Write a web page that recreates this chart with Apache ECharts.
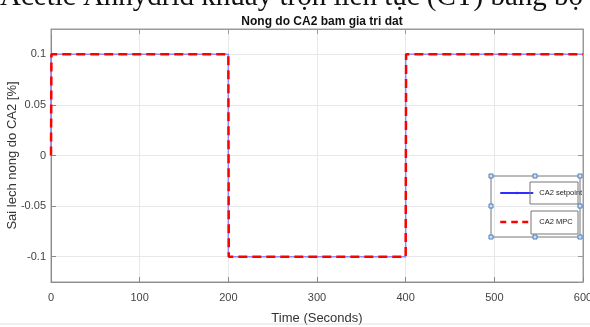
<!DOCTYPE html>
<html>
<head>
<meta charset="utf-8">
<script src="https://cdn.jsdelivr.net/npm/echarts@6/dist/echarts.min.js"></script>
<style>
  html, body { margin: 0; padding: 0; background: #fff; }
  #main { width: 590px; height: 327px; }
</style>
</head>
<body>
<div id="main"></div>
<script>
// du lieu doc tu hinh
var timeSp = [0, 0, 200, 200, 400, 400, 600]
var setpoint = [0, 0.1, 0.1, -0.1, -0.1, 0.1, 0.1]
var timeMpc = [0, 0.5, 200, 200.5, 400, 400.5, 600]
var mpc = [0, 0.1, 0.1, -0.1, -0.1, 0.1, 0.1]
var xTicks = [0, 100, 200, 300, 400, 500, 600]
var yTicks = [-0.1, -0.05, 0, 0.05, 0.1]

var font = "'Liberation Sans Narrow', 'Liberation Sans', Arial, sans-serif"

function pairs (xs, ys) {
    return xs.map(function (x, i) { return [x, ys[i]] })
}

var chart = echarts.init(document.getElementById('main'))

// o vuong nho cua legend (che do edit cua matlab)
var handles = [[491, 176], [535, 176], [580, 176], [491, 206], [580, 206], [491, 237], [535, 237], [580, 237]]

chart.setOption({
    animation: false,
    title: {
        text: 'Nong do CA2 bam gia tri dat',
        left: 317,
        textAlign: 'center',
        top: 11,
        textStyle: { fontFamily: font, fontSize: 12, fontWeight: 'bold', color: '#111' }
    },
    grid: {
        left: 51,
        right: 7,
        top: 29,
        bottom: 45,
        containLabel: false,
        outerBoundsMode: 'none',
        show: true,
        borderColor: '#9a9a9a',
        borderWidth: 1
    },
    legend: {
        orient: 'vertical',
        left: 494,
        top: 184,
        itemWidth: 33,
        itemHeight: 3,
        itemGap: 21,
        textStyle: { fontFamily: font, fontSize: 7.5, color: '#222', padding: [0, 0, 0, 1] },
        data: [
            { name: 'CA2 setpoint', itemStyle: { color: '#2d2dff' }, lineStyle: { color: '#2d2dff', width: 2 } },
            { name: 'CA2 MPC', itemStyle: { color: '#ff0000' }, lineStyle: { width: 2.5, type: [6, 5] } }
        ]
    },
    xAxis: [{
        type: 'value',
        min: 0,
        max: 600,
        interval: 100,
        name: 'Time (Seconds)',
        nameLocation: 'middle',
        nameGap: 30,
        nameMoveOverlap: false,
        nameTextStyle: { fontFamily: font, fontSize: 13, color: '#333' },
        axisLine: { onZero: false, lineStyle: { color: '#8a8a8a' } },
        axisTick: { inside: true, length: 5, lineStyle: { color: '#8a8a8a' } },
        axisLabel: {
            fontFamily: font, fontSize: 11, color: '#444', margin: 10,
            formatter: function (v) { return xTicks.indexOf(v) >= 0 ? String(v) : '' }
        },
        splitLine: { show: true, lineStyle: { color: '#e8e8e8' } }
    }, {
        type: 'value',
        position: 'top',
        min: 0,
        max: 600,
        interval: 100,
        axisLine: { show: true, onZero: false, lineStyle: { color: '#9a9a9a' } },
        axisTick: { inside: true, length: 5, lineStyle: { color: '#9a9a9a' } },
        axisLabel: { show: false },
        splitLine: { show: false }
    }],
    yAxis: [{
        type: 'value',
        min: -0.125,
        max: 0.125,
        splitNumber: 5,
        name: 'Sai lech nong do CA2 [%]',
        nameLocation: 'middle',
        nameGap: 32,
        nameMoveOverlap: false,
        nameTextStyle: { fontFamily: font, fontSize: 13, color: '#333' },
        axisLine: { show: true, onZero: false, lineStyle: { color: '#8a8a8a' } },
        axisTick: { show: true, inside: true, length: 5, lineStyle: { color: '#8a8a8a' } },
        axisLabel: {
            fontFamily: font, fontSize: 11, color: '#444', margin: 5,
            showMinLabel: false, showMaxLabel: false,
            formatter: function (v) {
                var r = Math.round(v * 100) / 100
                return yTicks.indexOf(r) >= 0 ? String(r) : ''
            }
        },
        splitLine: { show: true, lineStyle: { color: '#e8e8e8' } }
    }, {
        type: 'value',
        position: 'right',
        min: -0.125,
        max: 0.125,
        splitNumber: 5,
        axisLine: { show: true, onZero: false, lineStyle: { color: '#9a9a9a' } },
        axisTick: { show: true, inside: true, length: 5, lineStyle: { color: '#9a9a9a' } },
        axisLabel: { show: false },
        splitLine: { show: false }
    }],
    series: [{
        name: 'CA2 setpoint',
        type: 'line',
        data: pairs(timeSp, setpoint),
        symbol: 'none',
        lineStyle: { color: '#8c8cff', width: 1.5 },
        itemStyle: { color: '#8c8cff' },
        z: 2
    }, {
        name: 'CA2 MPC',
        type: 'line',
        data: pairs(timeMpc, mpc),
        symbol: 'none',
        lineStyle: { color: '#ff0000', width: 2.5, type: [9, 5] },
        itemStyle: { color: '#ff0000' },
        z: 3
    }],
    graphic: [
        // dong chu bi cat o tren cung
        {
            type: 'text', left: 0, top: -17, z: 100,
            style: { text: 'Acetic Anhydrid khuấy trộn liên tục (CT) bằng bộ', font: '29px "Liberation Serif", serif', fill: '#111' }
        },
        // khung legend
        { type: 'rect', shape: { x: 491, y: 176, width: 89, height: 61 }, style: { fill: 'none', stroke: '#777', lineWidth: 1 }, z: 100 },
        { type: 'rect', shape: { x: 530, y: 182, width: 48, height: 22 }, style: { fill: 'none', stroke: '#777', lineWidth: 1 }, z: 100 },
        { type: 'rect', shape: { x: 531, y: 211, width: 47, height: 23 }, style: { fill: 'none', stroke: '#777', lineWidth: 1 }, z: 100 },
        // duong ke duoi trang
        { type: 'line', shape: { x1: 0, y1: 324, x2: 590, y2: 324 }, style: { stroke: '#e0e0e0', lineWidth: 1 }, z: 100 }
    ].concat(handles.map(function (h) {
        return { type: 'rect', shape: { x: h[0] - 2, y: h[1] - 2, width: 4, height: 4 }, style: { fill: '#cfe0f5', stroke: '#4a7fc0', lineWidth: 1 }, z: 101 }
    }))
})
</script>
</body>
</html>
